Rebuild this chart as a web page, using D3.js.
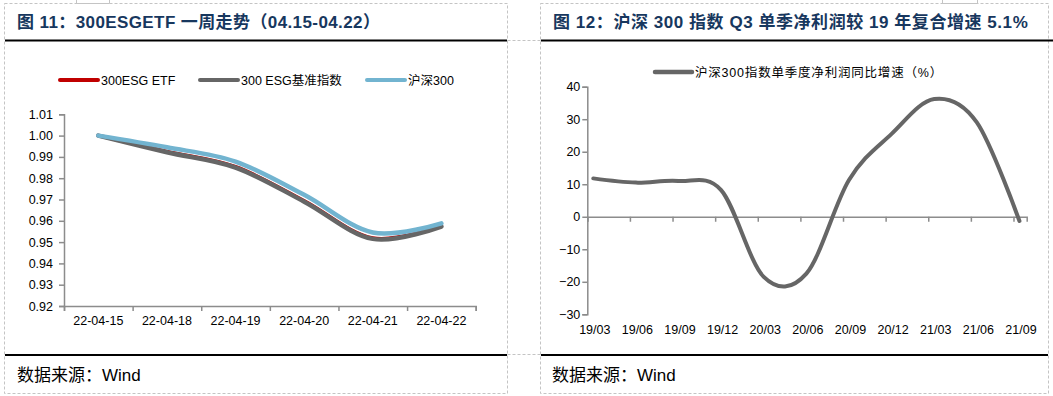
<!DOCTYPE html>
<html>
<head>
<meta charset="utf-8">
<script src="https://cdn.jsdelivr.net/npm/d3@7"></script>
<style>
  body { margin: 0; background: #fff; }
  svg { display: block; font-family: "Liberation Sans", Arial, "Noto Sans CJK SC", sans-serif; }
</style>
</head>
<body>
<div id="chart"></div>
<script>
// left chart data
const days = ["22-04-15", "22-04-18", "22-04-19", "22-04-20", "22-04-21", "22-04-22"];
const etf = [1.0, 0.9926, 0.9854, 0.9694, 0.9519, 0.9576];
const esgIndex = [1.0, 0.9922, 0.985, 0.969, 0.9515, 0.9573];
const hs300 = [1.0, 0.9945, 0.9878, 0.9722, 0.9545, 0.9588];
const leftTicks = [0.92, 0.93, 0.94, 0.95, 0.96, 0.97, 0.98, 0.99, 1.0, 1.01];

// right chart data
const quarters = ["19/03", "19/06", "19/09", "19/12", "20/03", "20/06", "20/09", "20/12", "21/03", "21/06", "21/09"];
const profitGrowth = [11.8, 10.5, 11.0, 8.2, -18.5, -17.5, 11.3, 25.5, 36.2, 29, -1.3];
const rightTicks = [-30, -20, -10, 0, 10, 20, 30, 40];

const width = 1053;
const height = 396;
const navy = "#17375e";
const axisColor = "#8c8c8c";
const dashColor = "#c4c4c4";

const svg = d3.select("#chart")
  .append("svg")
  .attr("width", width)
  .attr("height", height);

// panel frames
const frames = [
  { x1: 4.5, x2: 507.5 },
  { x1: 540.5, x2: 1048.5 }
];
frames.forEach(f => {
  svg.append("rect")
    .attr("x", f.x1).attr("y", 3.5)
    .attr("width", f.x2 - f.x1).attr("height", 390)
    .attr("fill", "none")
    .attr("stroke", dashColor)
    .attr("stroke-dasharray", "3,2");
});
[40.5, 354.5].forEach(y => {
  svg.append("line")
    .attr("x1", 507.5).attr("x2", 540.5)
    .attr("y1", y).attr("y2", y)
    .attr("stroke", dashColor)
    .attr("stroke-dasharray", "3,2");
});
[[76, 109], [942, 977]].forEach(([a, b]) => {
  svg.append("path")
    .attr("d", `M${a + 0.5},0 V3.5 H${b + 0.5} V0`)
    .attr("fill", "none")
    .attr("stroke", dashColor);
});

// black rules
svg.append("line").attr("x1", 5).attr("x2", 507).attr("y1", 40.5).attr("y2", 40.5)
  .attr("stroke", "#000").attr("stroke-width", 2);
svg.append("line").attr("x1", 5).attr("x2", 507).attr("y1", 355).attr("y2", 355)
  .attr("stroke", "#000").attr("stroke-width", 2);
svg.append("line").attr("x1", 541).attr("x2", 1053).attr("y1", 40.5).attr("y2", 40.5)
  .attr("stroke", "#000").attr("stroke-width", 2);
svg.append("line").attr("x1", 541).attr("x2", 1048).attr("y1", 355).attr("y2", 355)
  .attr("stroke", "#000").attr("stroke-width", 2);

// titles
svg.append("text")
  .attr("x", 17).attr("y", 28)
  .attr("fill", navy)
  .attr("font-size", 17)
  .attr("font-weight", "bold")
  .attr("letter-spacing", 0.4)
  .text("图 11：300ESGETF 一周走势（04.15-04.22）");

svg.append("text")
  .attr("x", 553).attr("y", 28)
  .attr("fill", navy)
  .attr("font-size", 17)
  .attr("font-weight", "bold")
  .attr("letter-spacing", 0.55)
  .text("图 12：沪深 300 指数 Q3 单季净利润较 19 年复合增速 5.1%");

// sources
[17, 552].forEach(x => {
  svg.append("text")
    .attr("x", x).attr("y", 381)
    .attr("font-size", 17)
    .attr("fill", "#000")
    .text("数据来源：Wind");
});

// ---------- left chart ----------
const xBand = d3.scaleBand()
  .domain(days)
  .range([64, 475.7]);
const xEdges = d3.scaleLinear()
  .domain([0, days.length])
  .range([64, 475.7]);
const yLeft = d3.scaleLinear()
  .domain([0.92, 1.01])
  .range([306, 114.3]);

const leftY = svg.append("g")
  .attr("transform", "translate(64,0)")
  .call(d3.axisLeft(yLeft).tickValues(leftTicks).tickFormat(d3.format(".2f")).tickSize(5).tickPadding(6));

const leftXTicks = svg.append("g")
  .attr("transform", "translate(0,306)")
  .call(d3.axisBottom(xEdges).tickValues(d3.range(days.length + 1)).tickFormat("").tickSize(5));

const leftXLabels = svg.append("g")
  .attr("transform", "translate(0,306)")
  .call(d3.axisBottom(xBand).tickSize(0).tickPadding(10));
leftXLabels.select(".domain").remove();

[leftY, leftXTicks].forEach(g => {
  g.select(".domain").attr("stroke", axisColor).attr("stroke-width", 1.5);
  g.selectAll(".tick line").attr("stroke", axisColor).attr("stroke-width", 1.5);
});
[leftY, leftXLabels].forEach(g => {
  g.selectAll(".tick text").attr("font-size", 12.5).attr("fill", "#000")
    .attr("font-family", "Liberation Sans, Arial, sans-serif");
});

const leftLine = d3.line()
  .x((d, i) => xBand(days[i]) + xBand.bandwidth() / 2)
  .y(d => yLeft(d))
  .curve(d3.curveCardinal.tension(0));

const leftSeries = [
  { name: "300ESG ETF", values: etf, color: "#c00000", w: 3.5 },
  { name: "300 ESG基准指数", values: esgIndex, color: "#666666", w: 4.5 },
  { name: "沪深300", values: hs300, color: "#72b4d0", w: 4.5 }
];
leftSeries.forEach(s => {
  svg.append("path")
    .datum(s.values)
    .attr("d", leftLine)
    .attr("fill", "none")
    .attr("stroke", s.color)
    .attr("stroke-width", s.w)
    .attr("stroke-linecap", "round");
});

// left legend
const legendX = [60, 200, 367];
leftSeries.forEach((s, i) => {
  const g = svg.append("g").attr("transform", `translate(${legendX[i]},80)`);
  g.append("line")
    .attr("x1", 0).attr("x2", 38)
    .attr("stroke", s.color)
    .attr("stroke-width", 4)
    .attr("stroke-linecap", "round");
  g.append("text")
    .attr("x", 41).attr("y", 4.5)
    .attr("font-size", 12.5)
    .attr("fill", "#000")
    .text(s.name);
});

// ---------- right chart ----------
const xRight = d3.scaleLinear()
  .domain([-0.14, 10.17])
  .range([587.3, 1026.7]);
const yRight = d3.scaleLinear()
  .domain([-30, 40])
  .range([314.3, 86.7]);

const rightY = svg.append("g")
  .attr("transform", "translate(587.3,0)")
  .call(d3.axisLeft(yRight).tickValues(rightTicks).tickSize(5).tickPadding(2));

const rightX = svg.append("g")
  .attr("transform", `translate(0,${yRight(0)})`)
  .call(d3.axisBottom(xRight).tickValues(d3.range(quarters.length).map(i => i - 0.14)).tickFormat("").tickSize(5));

[rightY, rightX].forEach(g => {
  g.select(".domain").attr("stroke", axisColor).attr("stroke-width", 1.5);
  g.selectAll(".tick line").attr("stroke", axisColor).attr("stroke-width", 1.5);
});
rightY.selectAll(".tick text").attr("font-size", 12.5).attr("fill", "#000")
  .attr("font-family", "Liberation Sans, Arial, sans-serif");

svg.append("g")
  .selectAll("text")
  .data(quarters)
  .join("text")
  .attr("x", (d, i) => xRight(i) + 1.5)
  .attr("y", 333.5)
  .attr("text-anchor", "middle")
  .attr("font-size", 12.5)
  .attr("fill", "#000")
  .text(d => d);

const rightLine = d3.line()
  .x((d, i) => xRight(i))
  .y(d => yRight(d))
  .curve(d3.curveCardinal.tension(0));

svg.append("path")
  .datum(profitGrowth)
  .attr("d", rightLine)
  .attr("fill", "none")
  .attr("stroke", "#666666")
  .attr("stroke-width", 4)
  .attr("stroke-linecap", "round");

const rl = svg.append("g").attr("transform", "translate(655,72)");
rl.append("line")
  .attr("x1", 0).attr("x2", 37)
  .attr("stroke", "#666666")
  .attr("stroke-width", 4.5)
  .attr("stroke-linecap", "round");
rl.append("text")
  .attr("x", 40).attr("y", 4.5)
  .attr("font-size", 12.5)
  .attr("letter-spacing", 0.8)
  .attr("fill", "#000")
  .text("沪深300指数单季度净利润同比增速（%）");
</script>
</body>
</html>
